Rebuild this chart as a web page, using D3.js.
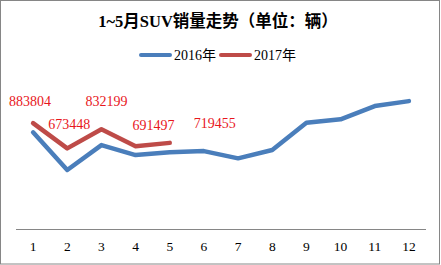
<!DOCTYPE html>
<html>
<head>
<meta charset="utf-8">
<script src="https://d3js.org/d3.v7.min.js"></script>
<style>
  body { margin: 0; background: #fff; }
  svg text { font-family: "Liberation Serif", "Times New Roman", "Noto Sans CJK SC", serif; }
</style>
</head>
<body>
<div class="line-chart"></div>
<script>
// data
var months = ["1", "2", "3", "4", "5", "6", "7", "8", "9", "10", "11", "12"];
var sales2016 = [807000, 494000, 701000, 618000, 641000, 651000, 591000, 660000, 886000, 915000, 1025000, 1066000];
var sales2017 = [883804, 673448, 832199, 691497, 719455];
var seriesNames = ["2016年", "2017年"];

// label nudges (hand-placed in the original)
var labelShift = [[-3, -17], [2, -19], [5, -23], [18, -16], [45, -15]];

var width = 441, height = 265;
var svg = d3.select(".line-chart").append("svg")
    .attr("width", width)
    .attr("height", height);

svg.append("rect")
    .attr("x", 0.5).attr("y", 0.5)
    .attr("width", 439).attr("height", 263.5)
    .attr("fill", "#fff")
    .attr("stroke", "#868686");

var x = d3.scaleBand().domain(months).range([16, 426]);
var y = d3.scaleLinear().domain([0, 1200000]).range([229.5, 85]);
var xc = function(m) { return x(m) + x.bandwidth() / 2; };

// title
svg.append("text")
    .attr("x", 218).attr("y", 27)
    .attr("text-anchor", "middle")
    .style("font-size", "16.5px")
    .style("font-weight", "bold")
    .text("1~5月SUV销量走势（单位：辆）");

// legend
var colors = ["#4a7ebb", "#be4b48"];
var legend = svg.append("g");
[141, 221].forEach(function(lx, i) {
  legend.append("line")
      .attr("x1", lx).attr("x2", lx + 29)
      .attr("y1", 55).attr("y2", 55)
      .attr("stroke", colors[i])
      .attr("stroke-width", 4)
      .attr("stroke-linecap", "round");
  legend.append("text")
      .attr("x", lx + 33).attr("y", 60)
      .style("font-size", "14px")
      .text(seriesNames[i]);
});

// axis
var axis = svg.append("g")
    .attr("transform", "translate(0,229.5)")
    .call(d3.axisBottom(x).tickSize(0).tickPadding(12));
axis.select(".domain").attr("stroke", "#868686").attr("d", "M16,0H426");
axis.selectAll("text")
    .style("font-size", "13.5px")
    .style("font-family", "'Liberation Serif', serif")
    .attr("fill", "#000");

var line = d3.line()
    .x(function(d, i) { return xc(months[i]); })
    .y(function(d) { return y(d); });

svg.append("path")
    .datum(sales2016)
    .attr("d", line)
    .attr("fill", "none")
    .attr("stroke", colors[0])
    .attr("stroke-width", 4.5)
    .attr("stroke-linejoin", "round")
    .attr("stroke-linecap", "round");

svg.append("path")
    .datum(sales2017)
    .attr("d", line)
    .attr("fill", "none")
    .attr("stroke", colors[1])
    .attr("stroke-width", 4.5)
    .attr("stroke-linejoin", "round")
    .attr("stroke-linecap", "round");

svg.selectAll(".lbl")
    .data(sales2017)
    .enter().append("text")
    .attr("class", "lbl")
    .attr("x", function(d, i) { return xc(months[i]) + labelShift[i][0]; })
    .attr("y", function(d, i) { return y(d) + labelShift[i][1]; })
    .attr("text-anchor", "middle")
    .attr("fill", "#e8161c")
    .style("font-size", "14px")
    .style("font-family", "'Liberation Serif', serif")
    .text(function(d) { return d; });
</script>
</body>
</html>
